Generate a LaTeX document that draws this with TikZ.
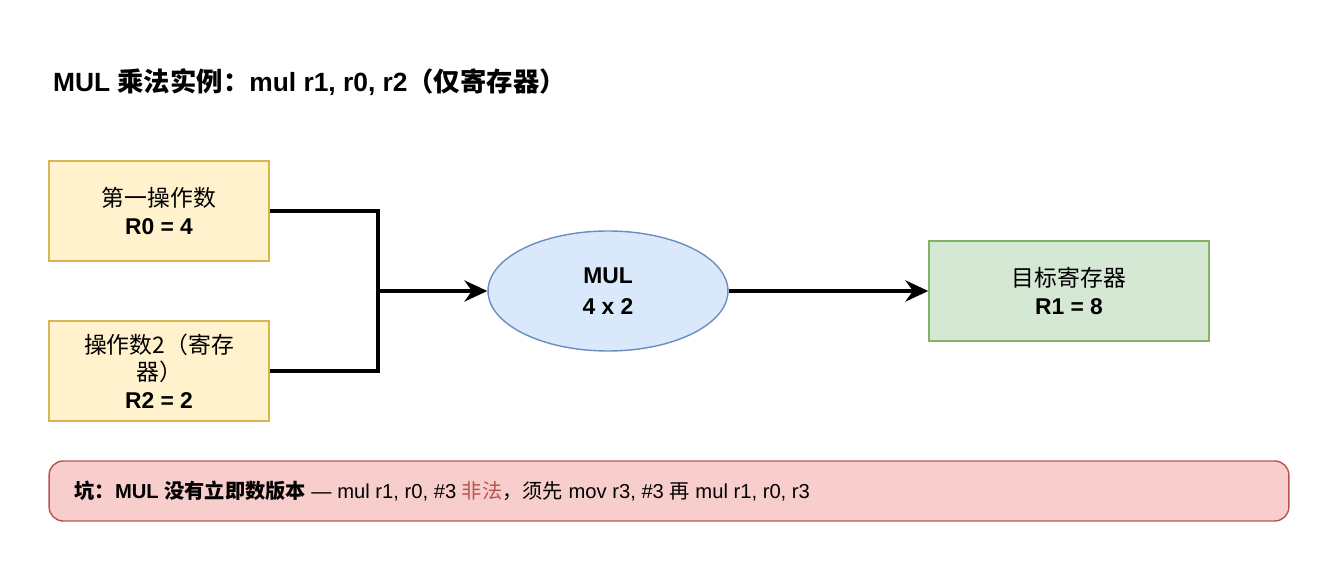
\documentclass[tikz,border=0pt]{standalone}
\usepackage{fontspec}
\setmainfont{Liberation Sans}
\newfontfamily\cjk{Noto Sans CJK SC}
\usetikzlibrary{shapes.geometric,arrows.meta}
\definecolor{opfill}{HTML}{FFF2CC}
\definecolor{opdraw}{HTML}{D6B656}
\definecolor{alufill}{HTML}{DAE8FC}
\definecolor{aludraw}{HTML}{6C8EBF}
\definecolor{dstfill}{HTML}{D5E8D4}
\definecolor{dstdraw}{HTML}{82B366}
\definecolor{pitfill}{HTML}{F8CECC}
\definecolor{pitdraw}{HTML}{B85450}
\begin{document}
\begin{tikzpicture}[x=0.02cm,y=-0.02cm,font=\fontsize{13}{15.5}\selectfont]
  \tikzstyle{opbox}=[draw=opdraw,fill=opfill,line width=0.8pt,minimum width=4.4cm,minimum height=2cm,align=center,inner sep=1pt]
  \tikzstyle{wire}=[line width=2pt]
  \tikzstyle{arr}=[wire,-{Stealth[length=13pt,width=12pt]}]
  \useasboundingbox (0,0) rectangle (1340,570);
  \node[anchor=west,font=\fontsize{15}{18}\selectfont\bfseries] (title) at (47,82)
    {MUL {\cjk 乘法实例：}mul r1, r0, r2{\cjk（仅寄存器）}};
  \node[opbox] (op1) at (159,211) {{\cjk 第一操作数}\\\textbf{R0 = 4}};
  \node[opbox] (op2) at (159,371) {{\cjk 操作数2（寄存}\\{\cjk 器）}\\\textbf{R2 = 2}};
  \node[ellipse,draw=aludraw,fill=alufill,line width=0.8pt,minimum width=4.8cm,minimum height=2.4cm,align=center,font=\fontsize{13}{18}\selectfont\bfseries] (mul) at (608,291) {MUL\\4 x 2};
  \node[draw=dstdraw,fill=dstfill,line width=0.8pt,minimum width=5.6cm,minimum height=2cm,align=center] (dst) at (1069,291) {{\cjk 目标寄存器}\\\textbf{R1 = 8}};
  \coordinate (join) at (378,291);
  \draw[wire] (op1.east) -| (join);
  \draw[wire] (op2.east) -| (join);
  \draw[arr] (join) -- (mul.west);
  \draw[arr] (mul.east) -- (dst.west);
  \node[draw=pitdraw,fill=pitfill,line width=0.8pt,rounded corners=8pt,minimum width=24.8cm,minimum height=1.2cm] (pit) at (669,491) {};
  \node[anchor=west,font=\fontsize{11.5}{14}\selectfont] (pittext) at (pit.west) [xshift=0.4cm]
    {\textbf{{\cjk 坑：}MUL {\cjk 没有立即数版本}} — mul r1, r0, \#3 {\cjk\color{pitdraw}非法}{\cjk ，须先} mov r3, \#3 {\cjk 再} mul r1, r0, r3};
\end{tikzpicture}
\end{document}
